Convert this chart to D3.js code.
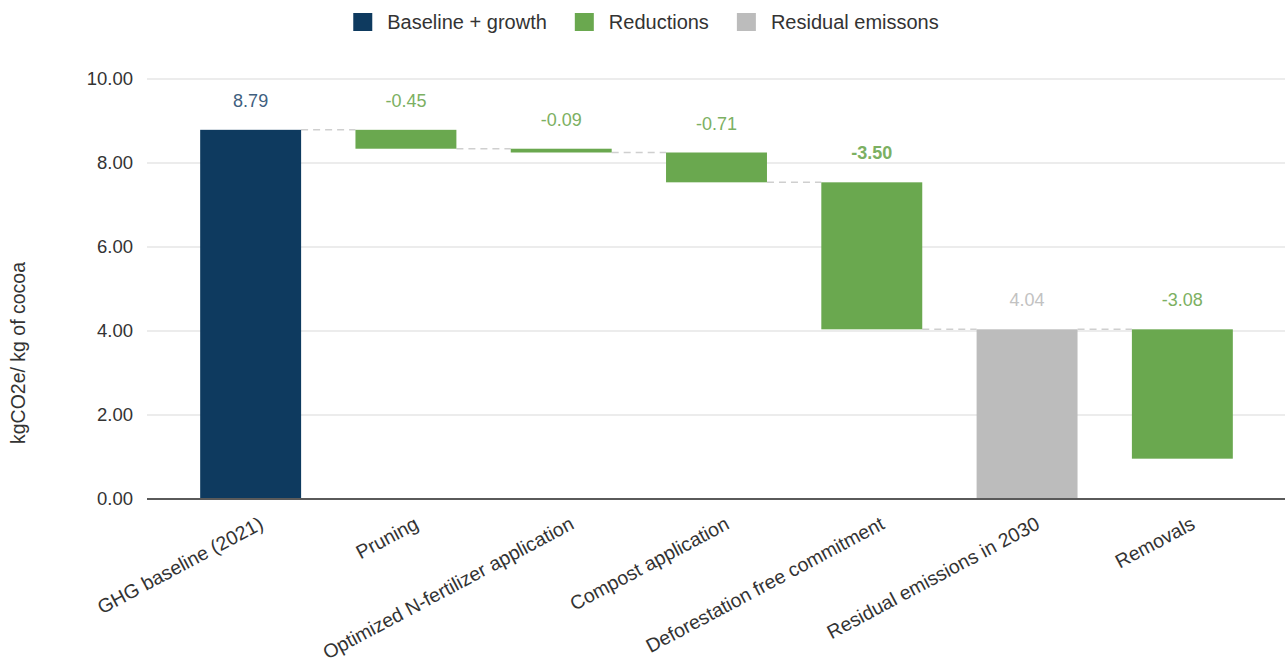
<!DOCTYPE html>
<html>
<head>
<meta charset="utf-8">
<script src="https://cdn.jsdelivr.net/npm/d3@7"></script>
<style>
  body { margin: 0; background: #fff; }
  text { font-family: Arial, "Liberation Sans", sans-serif; }
</style>
</head>
<body>
<svg width="1288" height="662"></svg>
<script>
let categories = [
  'GHG baseline (2021)',
  'Pruning',
  'Optimized N-fertilizer application',
  'Compost application',
  'Deforestation free commitment',
  'Residual emissions in 2030',
  'Removals'
]
let values = [8.79, -0.45, -0.09, -0.71, -3.50, 4.04, -3.08]
let kinds = ['baseline', 'reduction', 'reduction', 'reduction', 'reduction', 'residual', 'reduction']
let yTicks = [0, 2, 4, 6, 8, 10]
let legendLabels = ['Baseline + growth', 'Reductions', 'Residual emissons']
let legendKinds = ['baseline', 'reduction', 'residual']

let width = 1288
let height = 662
let margin = { top: 79, bottom: 163, left: 147, right: 3 }

let barColor = { baseline: '#0e3a5f', reduction: '#6aa84f', residual: '#bcbcbc' }
let labelColor = { baseline: '#3f5f7f', reduction: '#7cb062', residual: '#c2c2c2' }

let fmt = d3.formatLocale({ decimal: '.', thousands: ',', grouping: [3], currency: ['', ''], minus: '-' }).format('.2f')

// running totals for the waterfall
let total = 0
let bars = categories.map((name, i) => {
  let v = values[i]
  let b
  if (kinds[i] === 'residual') {
    b = { name, v, kind: kinds[i], y0: 0, y1: v }
    total = v
  } else {
    b = { name, v, kind: kinds[i], y0: total, y1: total + v }
    total = total + v
  }
  return b
})

let svg = d3.select('svg')

let xScale = d3.scaleBand()
  .domain(categories)
  .range([173, 1260])
  .paddingInner(0.35)
  .paddingOuter(0.175)

let yScale = d3.scaleLinear()
  .domain([0, 10])
  .range([height - margin.bottom, margin.top])

// grid
svg.append('g')
  .selectAll('line')
  .data(yTicks.filter(d => d > 0))
  .join('line')
  .attr('x1', margin.left)
  .attr('x2', width - margin.right)
  .attr('y1', d => yScale(d))
  .attr('y2', d => yScale(d))
  .attr('stroke', '#d9d9d9')
  .attr('stroke-width', 1)

// y tick labels
let yAxis = d3.axisLeft(yScale)
  .tickValues(yTicks)
  .tickFormat(fmt)
  .tickSize(0)
  .tickPadding(14)
let gy = svg.append('g')
  .attr('transform', 'translate(' + [margin.left, 0] + ')')
  .call(yAxis)
gy.select('.domain').remove()
gy.selectAll('text')
  .attr('font-size', 18.5)
  .attr('font-family', 'Arial, "Liberation Sans", sans-serif')
  .attr('fill', '#333')

// connectors
let connectors = bars.slice(0, -1).map((b, i) => {
  let next = bars[i + 1]
  return { x1: xScale(b.name) + xScale.bandwidth(), x2: xScale(next.name), y: b.y1 }
})
svg.append('g')
  .selectAll('line')
  .data(connectors)
  .join('line')
  .attr('x1', d => d.x1)
  .attr('x2', d => d.x2)
  .attr('y1', d => yScale(d.y))
  .attr('y2', d => yScale(d.y))
  .attr('stroke', '#cfcfcf')
  .attr('stroke-width', 1.5)
  .attr('stroke-dasharray', '7,5')

// bars
svg.append('g')
  .selectAll('rect')
  .data(bars)
  .join('rect')
  .attr('x', d => xScale(d.name))
  .attr('width', xScale.bandwidth())
  .attr('y', d => yScale(Math.max(d.y0, d.y1)))
  .attr('height', d => Math.abs(yScale(d.y0) - yScale(d.y1)))
  .attr('fill', d => barColor[d.kind])

// value labels
svg.append('g')
  .selectAll('text')
  .data(bars)
  .join('text')
  .attr('x', d => xScale(d.name) + xScale.bandwidth() / 2)
  .attr('y', d => yScale(Math.max(d.y0, d.y1)) - 23)
  .attr('text-anchor', 'middle')
  .attr('font-size', 18)
  .attr('font-weight', (d, i) => i === 4 ? 'bold' : 'normal')
  .attr('fill', d => labelColor[d.kind])
  .text(d => fmt(d.v))

// x axis
let xAxis = d3.axisBottom(xScale).tickSize(0).tickPadding(0)
let gx = svg.append('g')
  .attr('transform', 'translate(' + [0, height - margin.bottom] + ')')
  .call(xAxis)
gx.select('.domain').remove()
gx.append('line')
  .attr('x1', margin.left)
  .attr('x2', width - margin.right)
  .attr('stroke', '#5a5a5a')
  .attr('stroke-width', 2)
gx.selectAll('.tick text')
  .attr('font-size', 19.5)
  .attr('font-family', 'Arial, "Liberation Sans", sans-serif')
  .attr('fill', '#333')
  .attr('text-anchor', 'end')
  .attr('dy', 0)
  .attr('transform', 'translate(14,29) rotate(-28)')

// y title
svg.append('text')
  .attr('transform', 'translate(25,' + 353 + ') rotate(-90)')
  .attr('text-anchor', 'middle')
  .attr('font-size', 19.5)
  .attr('fill', '#333')
  .text('kgCO2e/ kg of cocoa')

// legend
let legend = svg.append('g').attr('transform', 'translate(0,13)')
let items = legend.selectAll('g')
  .data(legendLabels)
  .join('g')
items.append('rect')
  .attr('width', 19)
  .attr('height', 18)
  .attr('fill', (d, i) => barColor[legendKinds[i]])
items.append('text')
  .attr('x', 34)
  .attr('y', 16)
  .attr('font-size', 20)
  .attr('fill', '#333')
  .text(d => d)
let xPos = 0
let offsets = []
items.each(function () {
  offsets.push(xPos)
  let w = d3.select(this).select('text').node().getComputedTextLength()
  xPos += 34 + w + 28
})
let legendWidth = xPos - 28
let start = 646 - legendWidth / 2
items.attr('transform', (d, i) => 'translate(' + (start + offsets[i]) + ',0)')
</script>
</body>
</html>
